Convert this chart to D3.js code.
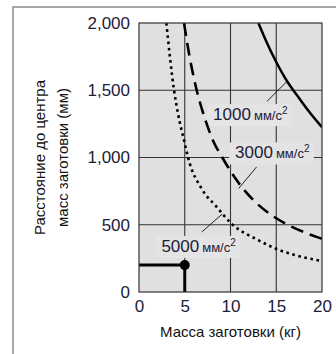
<!DOCTYPE html>
<html>
<head>
<meta charset="utf-8">
<script src="https://cdn.jsdelivr.net/npm/d3@7"></script>
<style>
  body { margin: 0; background: #fff; }
  svg { display: block; font-family: "Liberation Sans", Arial, sans-serif; }
</style>
</head>
<body>
<svg id="chart" width="336" height="354"></svg>
<script>
// data
var xTicks = [0, 5, 10, 15, 20];
var yTicks = [0, 500, 1000, 1500, 2000];

// [mass kg, distance mm]
var curve1000 = [[13.05, 2000], [14, 1850], [15, 1710], [16.2, 1565], [17.3, 1460], [18.6, 1340], [20, 1225]];
var curve3000 = [[4.92, 2000], [5.5, 1760], [6.2, 1530], [7.2, 1290], [8.2, 1110], [9.1, 1000], [10.9, 810],
                 [12.5, 683], [14.5, 571], [16, 509], [18.4, 435], [20, 395]];
var curve5000 = [[2.99, 2000], [3.83, 1500], [4.26, 1328], [5.0, 1105], [5.36, 1000], [6.83, 770], [8.48, 633],
                 [10.1, 509], [13.05, 385], [14.9, 323], [17, 275], [20, 230]];

var curveNames = ["1000", "3000", "5000"];
// label anchor (text start, baseline) and leader line [from, to], all in data units
var labelPos = [[8.1, 1278], [10.5, 993], [2.45, 298]];
var leaders = [[[13.98, 1417], [16.18, 1566]], [[12.85, 930], [10.9, 770]], [[6.86, 446], [9.1, 580]]];

var point = [5, 200];

var svg = d3.select("#chart"),
    margin = {top: 23, right: 14, bottom: 62, left: 139},
    width = 336 - margin.left - margin.right,
    height = 354 - margin.top - margin.bottom;

// outer frame (only top and left edges show)
svg.append("path")
    .attr("d", "M13,360 L13,7 L340,7")
    .attr("fill", "none")
    .attr("stroke", "#8a8a8a")
    .attr("stroke-width", 1.5);

var g = svg.append("g").attr("transform", "translate(" + margin.left + "," + margin.top + ")");

var x = d3.scaleLinear().domain([0, 20]).range([0, width]);
var y = d3.scaleLinear().domain([0, 2000]).range([height, 0]);

g.append("rect")
    .attr("width", width)
    .attr("height", height)
    .attr("fill", "#e0e0e0");

// grid
g.selectAll(".vgrid")
  .data(xTicks.slice(1, -1))
  .enter().append("line")
    .attr("x1", function(d) { return x(d); })
    .attr("x2", function(d) { return x(d); })
    .attr("y1", 0)
    .attr("y2", height)
    .attr("stroke", "#333")
    .attr("stroke-width", 1.1);

g.selectAll(".hgrid")
  .data(yTicks.slice(1, -1))
  .enter().append("line")
    .attr("y1", function(d) { return y(d); })
    .attr("y2", function(d) { return y(d); })
    .attr("x1", 0)
    .attr("x2", width)
    .attr("stroke", "#333")
    .attr("stroke-width", 1.1);

// label boxes + texts
var labels = g.selectAll(".lbl")
  .data(curveNames)
  .enter().append("g")
    .attr("class", "lbl");

var texts = labels.append("text")
    .attr("x", function(d, i) { return x(labelPos[i][0]); })
    .attr("y", function(d, i) { return y(labelPos[i][1]); })
    .attr("fill", "#1c2038")
    .style("font-family", "'Liberation Sans Narrow', 'Arial Narrow', 'Liberation Sans', sans-serif");
texts.append("tspan").attr("font-size", 17).text(function(d) { return d; });
texts.append("tspan").attr("font-size", 13).attr("dx", 3).text("мм/с");
texts.append("tspan").attr("font-size", 10).attr("dy", -6).text("2");

labels.each(function() {
  var t = d3.select(this).select("text");
  var bb = t.node().getBBox();
  d3.select(this).insert("rect", "text")
      .attr("x", bb.x - 6)
      .attr("y", bb.y - 1)
      .attr("width", bb.width + 10)
      .attr("height", bb.height + 3)
      .attr("fill", "#e4e4e4");
});

// leaders
g.selectAll(".leader")
  .data(leaders)
  .enter().append("line")
    .attr("x1", function(d) { return x(d[0][0]); })
    .attr("y1", function(d) { return y(d[0][1]); })
    .attr("x2", function(d) { return x(d[1][0]); })
    .attr("y2", function(d) { return y(d[1][1]); })
    .attr("stroke", "#222")
    .attr("stroke-width", 1);

// curves
g.append("clipPath").attr("id", "clip")
  .append("rect").attr("width", width).attr("height", height);

var line = d3.line()
    .x(function(d) { return x(d[0]); })
    .y(function(d) { return y(d[1]); })
    .curve(d3.curveMonotoneX);

var curves = g.append("g").attr("clip-path", "url(#clip)");

curves.append("path")
    .attr("d", line(curve1000))
    .attr("fill", "none")
    .attr("stroke", "#000")
    .attr("stroke-width", 2.5);

curves.append("path")
    .attr("d", line(curve3000))
    .attr("fill", "none")
    .attr("stroke", "#000")
    .attr("stroke-width", 2.6)
    .attr("stroke-dasharray", "13,7");

curves.append("path")
    .attr("d", line(curve5000))
    .attr("fill", "none")
    .attr("stroke", "#000")
    .attr("stroke-width", 2.6)
    .attr("stroke-dasharray", "2.6,3.6");

// working point
g.append("path")
    .attr("d", "M" + x(0) + "," + y(point[1]) + "H" + x(point[0]) + "V" + y(0))
    .attr("fill", "none")
    .attr("stroke", "#000")
    .attr("stroke-width", 3);

g.append("circle")
    .attr("cx", x(point[0]))
    .attr("cy", y(point[1]))
    .attr("r", 5)
    .attr("fill", "#000");

// frame of plot
g.append("rect")
    .attr("width", width)
    .attr("height", height)
    .attr("fill", "none")
    .attr("stroke", "#333")
    .attr("stroke-width", 1.2);

// axes
var xAxis = g.append("g")
    .attr("transform", "translate(0," + height + ")")
    .call(d3.axisBottom(x).tickValues(xTicks).tickSize(0).tickPadding(8));
var yAxis = g.append("g")
    .call(d3.axisLeft(y).tickValues(yTicks).tickSize(0).tickPadding(9).tickFormat(d3.format(",")));

[xAxis, yAxis].forEach(function(a) {
  a.select(".domain").remove();
  a.selectAll("text")
      .attr("font-size", 17)
      .attr("font-family", "'Liberation Sans', Arial, sans-serif")
      .attr("fill", "#1c2038");
});

g.append("text")
    .attr("x", width / 2)
    .attr("y", height + 45)
    .attr("text-anchor", "middle")
    .attr("font-size", 15)
    .attr("fill", "#111")
    .text("Масса заготовки (кг)");

var ylab = svg.append("text")
    .attr("transform", "translate(45," + (margin.top + height / 2) + ") rotate(-90)")
    .attr("text-anchor", "middle")
    .attr("font-size", 15)
    .attr("fill", "#111");
ylab.append("tspan").attr("x", 0).attr("y", 0).text("Расстояние до центра");
ylab.append("tspan").attr("x", 0).attr("y", 23).text("масс заготовки (мм)");
</script>
</body>
</html>
